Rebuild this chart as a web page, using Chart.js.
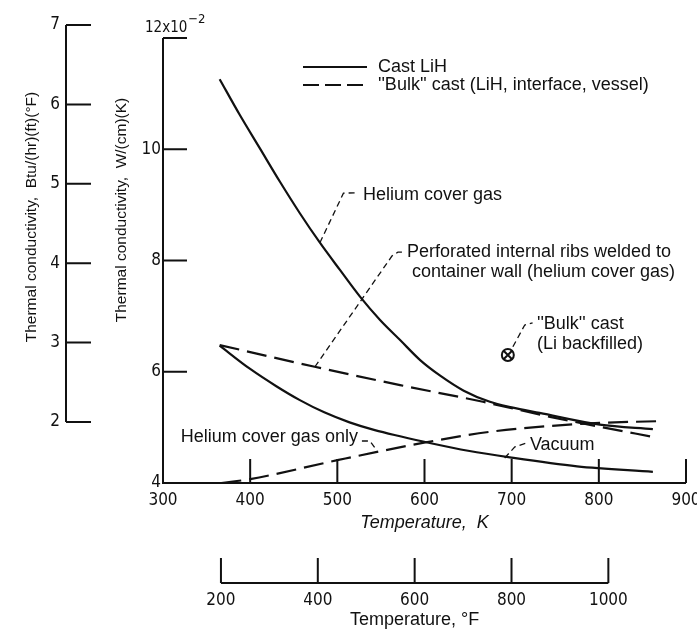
<!DOCTYPE html>
<html>
<head>
<meta charset="utf-8">
<script src="https://cdn.jsdelivr.net/npm/chart.js@4.4.0/dist/chart.umd.min.js"></script>
<style>
  html, body { margin: 0; padding: 0; background: #fff; }
</style>
</head>
<body>
<canvas id="Chart1" width="697" height="635"></canvas>
<script>
// temperature in K, thermal conductivity in W/(cm)(K) x 10^-2
var heCoverTemp = [365, 388, 411, 434, 457, 480, 503, 526, 549, 572, 595, 618, 645, 675, 700, 732, 801, 862];
var heCoverCond = [11.26, 10.62, 10.02, 9.42, 8.85, 8.32, 7.83, 7.35, 6.93, 6.57, 6.21, 5.93, 5.66, 5.46, 5.36, 5.26, 5.05, 4.97];

var ribsTemp = [365, 474, 572, 667, 744, 801, 862];
var ribsCond = [6.48, 6.09, 5.76, 5.46, 5.19, 5.01, 4.83];

var vacuumTemp = [365, 400, 430, 457, 485, 514, 543, 572, 606, 650, 698, 775, 862];
var vacuumCond = [6.47, 6.05, 5.74, 5.49, 5.27, 5.09, 4.95, 4.84, 4.72, 4.58, 4.46, 4.30, 4.20];

var heOnlyTemp = [367, 400, 500, 598, 675, 740, 801, 866];
var heOnlyCond = [4.00, 4.07, 4.41, 4.72, 4.92, 5.02, 5.08, 5.11];

var bulkLiTemp = [695.6];
var bulkLiCond = [6.30];

var kLabels = [300, 400, 500, 600, 700, 800, 900];
var fLabels = [200, 400, 600, 800, 1000];
var yLabels = [4, 6, 8, 10, 12];
var btuLabels = [2, 3, 4, 5, 6, 7];

var txtFont = "'Liberation Sans', Arial, sans-serif";
var numFont = "'Liberation Sans Narrow', 'DejaVu Sans Condensed', 'Liberation Sans', sans-serif";
var ink = '#111';

function pts(xs, ys) {
    return xs.map(function (t, i) { return { x: t, y: ys[i] }; });
}
function setTicks(list) {
    return function (scale) { scale.ticks = list.map(function (v) { return { value: v }; }); };
}
function plain(v) { return String(v); }
function kToF(k) { return (k - 273.15) * 9 / 5 + 32; }

// leader lines and notes, in (K, conductivity) coordinates
var notes = [
    { leader: [[480, 8.32], [507, 9.21], [524, 9.22]], lines: ['Helium cover gas'], at: [529.5, 9.18], align: 'left', indent: 0 },
    { leader: [[474.3, 6.09], [562.6, 8.08], [569.5, 8.15], [576.4, 8.15]], lines: ['Perforated internal ribs welded to', 'container wall (helium cover gas)'], at: [579.8, 8.15], align: 'left', indent: 5 },
    { leader: [[701.4, 6.45], [715, 6.84], [724, 6.88]], lines: ["''Bulk'' cast", '(Li backfilled)'], at: [729, 6.86], align: 'left', indent: 0 },
    { leader: [[528.2, 4.755], [537.4, 4.755], [545.4, 4.58]], lines: ['Helium cover gas only'], at: [523.6, 4.83], align: 'right', indent: 0 },
    { leader: [[692, 4.45], [703.7, 4.65], [717.4, 4.72]], lines: ['Vacuum'], at: [720.9, 4.68], align: 'left', indent: 0 }
];

var decor = {
    id: 'decor',
    afterDraw: function (chart) {
        var ctx = chart.ctx;
        var x = chart.scales.x, y = chart.scales.y, f = chart.scales.xF, b = chart.scales.yBtu;
        var ca = chart.chartArea;
        ctx.save();
        ctx.strokeStyle = ink;
        ctx.fillStyle = ink;
        ctx.lineWidth = 2;
        ctx.setLineDash([]);

        // main axes
        var x0 = x.getPixelForValue(300), y0 = y.getPixelForValue(4);
        ctx.beginPath();
        ctx.moveTo(x0, y.getPixelForValue(12));
        ctx.lineTo(x0, y0);
        ctx.lineTo(x.getPixelForValue(900), y0);
        yLabels.forEach(function (v) {
            if (v === 4) return;
            var p = y.getPixelForValue(v);
            ctx.moveTo(x0, p); ctx.lineTo(x0 + 24, p);
        });
        kLabels.forEach(function (v) {
            if (v === 300) return;
            var p = x.getPixelForValue(v);
            ctx.moveTo(p, y0); ctx.lineTo(p, y0 - 24);
        });
        ctx.stroke();

        // Fahrenheit axis
        var fy = f.top;
        ctx.beginPath();
        ctx.moveTo(f.getPixelForValue(200), fy);
        ctx.lineTo(f.getPixelForValue(1000), fy);
        fLabels.forEach(function (v) {
            var p = f.getPixelForValue(v);
            ctx.moveTo(p, fy); ctx.lineTo(p, fy - 25);
        });
        ctx.stroke();

        // Btu axis
        var bx = b.right;
        ctx.beginPath();
        ctx.moveTo(bx, b.getPixelForValue(7));
        ctx.lineTo(bx, b.getPixelForValue(2));
        btuLabels.forEach(function (v) {
            var p = b.getPixelForValue(v);
            ctx.moveTo(bx, p); ctx.lineTo(bx + 25, p);
        });
        ctx.stroke();

        // 12x10^-2
        var y12 = y.getPixelForValue(12);
        ctx.textAlign = 'left';
        ctx.textBaseline = 'alphabetic';
        ctx.font = '15px ' + numFont;
        ctx.fillText('12x10', x0 - 18, y12 - 6);
        var w = ctx.measureText('12x10').width;
        ctx.font = '13px ' + numFont;
        ctx.fillText('\u22122', x0 - 18 + w + 1, y12 - 15);

        // axis titles
        ctx.font = '15.5px ' + txtFont;
        ctx.textAlign = 'center';
        ctx.textBaseline = 'middle';
        ctx.save();
        ctx.translate(x0 - 41, 210);
        ctx.rotate(-Math.PI / 2);
        ctx.fillText('Thermal conductivity,  W/(cm)(K)', 0, 0);
        ctx.restore();
        ctx.save();
        ctx.translate(bx - 34, 217);
        ctx.rotate(-Math.PI / 2);
        ctx.fillText('Thermal conductivity,  Btu/(hr)(ft)(\u00B0F)', 0, 0);
        ctx.restore();

        ctx.font = '18px ' + txtFont;
        var fMid = (f.getPixelForValue(200) + f.getPixelForValue(1000)) / 2;
        ctx.fillText('Temperature, \u00B0F', fMid, fy + 37);

        // legend
        var lx = ca.left + 140, ly = ca.top + 42;
        ctx.lineWidth = 2.2;
        ctx.beginPath();
        ctx.moveTo(lx, ly); ctx.lineTo(lx + 64, ly);
        ctx.stroke();
        ctx.setLineDash([16, 6]);
        ctx.beginPath();
        ctx.moveTo(lx, ly + 18); ctx.lineTo(lx + 64, ly + 18);
        ctx.stroke();
        ctx.setLineDash([]);
        ctx.textAlign = 'left';
        ctx.fillText('Cast LiH', lx + 75, ly);
        ctx.fillText("''Bulk'' cast (LiH, interface, vessel)", lx + 75, ly + 18);

        // notes with dashed leaders
        notes.forEach(function (n) {
            ctx.lineWidth = 1.3;
            ctx.setLineDash([6, 4]);
            ctx.beginPath();
            n.leader.forEach(function (p, i) {
                var px = x.getPixelForValue(p[0]), py = y.getPixelForValue(p[1]);
                if (i === 0) ctx.moveTo(px, py); else ctx.lineTo(px, py);
            });
            ctx.stroke();
            ctx.setLineDash([]);
            ctx.textAlign = n.align;
            var tx = x.getPixelForValue(n.at[0]), ty = y.getPixelForValue(n.at[1]);
            n.lines.forEach(function (s, i) {
                ctx.fillText(s, tx + (i ? n.indent : 0), ty + i * 20);
            });
        });
        ctx.restore();
    }
};

var ctx = document.getElementById('Chart1').getContext('2d');
var Chart1 = new Chart(ctx, {
    type: 'line',
    data: {
        datasets: [{
            label: 'Helium cover gas',
            data: pts(heCoverTemp, heCoverCond),
            borderColor: ink,
            borderWidth: 2.2,
            pointRadius: 0,
            cubicInterpolationMode: 'monotone'
        }, {
            label: 'Perforated internal ribs',
            data: pts(ribsTemp, ribsCond),
            borderColor: ink,
            borderWidth: 2.2,
            borderDash: [20, 8],
            pointRadius: 0,
            cubicInterpolationMode: 'monotone'
        }, {
            label: 'Vacuum',
            data: pts(vacuumTemp, vacuumCond),
            borderColor: ink,
            borderWidth: 2.2,
            pointRadius: 0,
            cubicInterpolationMode: 'monotone'
        }, {
            label: 'Helium cover gas only',
            data: pts(heOnlyTemp, heOnlyCond),
            borderColor: ink,
            borderWidth: 2.2,
            borderDash: [20, 8],
            pointRadius: 0,
            cubicInterpolationMode: 'monotone'
        }, {
            label: "''Bulk'' cast (Li backfilled)",
            data: pts(bulkLiTemp, bulkLiCond),
            showLine: false,
            borderColor: ink,
            backgroundColor: 'rgba(0,0,0,0)',
            borderWidth: 2,
            pointStyle: 'circle',
            pointRadius: 6
        }, {
            label: "''Bulk'' cast (Li backfilled) cross",
            data: pts(bulkLiTemp, bulkLiCond),
            showLine: false,
            borderColor: ink,
            borderWidth: 2,
            pointStyle: 'crossRot',
            pointRadius: 6
        }]
    },
    options: {
        responsive: false,
        animation: false,
        devicePixelRatio: 1,
        layout: { padding: { top: 25, right: 11, bottom: 0, left: 0 } },
        plugins: {
            legend: { display: false },
            tooltip: { enabled: false }
        },
        scales: {
            x: {
                type: 'linear',
                position: 'bottom',
                min: 300,
                max: 900,
                afterBuildTicks: setTicks(kLabels),
                afterFit: function (s) { s.height = 100; s.paddingLeft = 0; s.paddingRight = 0; },
                grid: { display: false, drawTicks: false },
                border: { display: false },
                ticks: { color: ink, padding: 7, font: { family: numFont, size: 17 }, callback: plain },
                title: {
                    display: true,
                    text: 'Temperature,  K',
                    color: ink,
                    font: { family: txtFont, size: 18, style: 'italic' },
                    padding: { top: 0, bottom: 49 }
                }
            },
            xF: {
                type: 'linear',
                position: 'bottom',
                min: kToF(300),
                max: kToF(900),
                afterBuildTicks: setTicks(fLabels),
                afterFit: function (s) { s.height = 52; s.paddingLeft = 0; s.paddingRight = 0; },
                grid: { display: false, drawTicks: false },
                border: { display: false },
                ticks: { color: ink, padding: 7, font: { family: numFont, size: 17 }, callback: plain }
            },
            y: {
                type: 'linear',
                position: 'left',
                weight: 0,
                min: 4,
                max: 12.234,
                afterBuildTicks: setTicks(yLabels),
                afterFit: function (s) { s.width = 97; s.paddingTop = 0; s.paddingBottom = 0; },
                grid: { display: false, drawTicks: false },
                border: { display: false },
                ticks: {
                    color: ink,
                    padding: 2,
                    font: { family: numFont, size: 17 },
                    callback: function (v) { return v === 12 ? '' : String(v); }
                }
            },
            yBtu: {
                type: 'linear',
                position: 'left',
                weight: 1,
                min: 1.232,
                max: 7,
                afterBuildTicks: setTicks(btuLabels),
                afterFit: function (s) { s.width = 66; s.paddingTop = 0; s.paddingBottom = 0; },
                grid: { display: false, drawTicks: false },
                border: { display: false },
                ticks: { color: ink, padding: 6, font: { family: numFont, size: 17 }, callback: plain }
            }
        }
    },
    plugins: [decor]
});
</script>
</body>
</html>
